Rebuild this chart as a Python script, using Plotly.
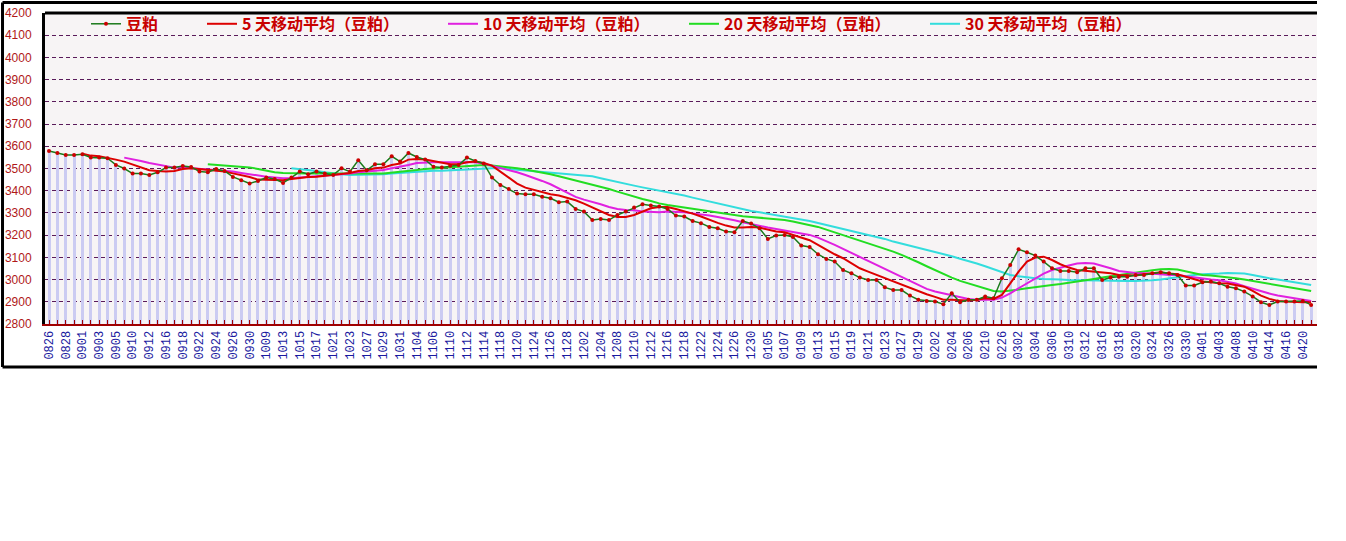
import plotly.graph_objects as go

dates = [
    "0826","0827","0828","0829","0901","0902","0903","0904","0905","0908",
    "0910","0911","0912","0915","0916","0917","0918","0919","0922","0923",
    "0924","0925","0926","0929","0930","1008","1009","1010","1013","1014",
    "1015","1016","1017","1020","1021","1022","1023","1024","1027","1028",
    "1029","1030","1031","1103","1104","1105","1106","1107","1110","1111",
    "1112","1113","1114","1117","1118","1119","1120","1121","1124","1125",
    "1126","1127","1128","1201","1202","1203","1204","1205","1208","1209",
    "1210","1211","1212","1215","1216","1217","1218","1219","1222","1223",
    "1224","1225","1226","1229","1230","0104","0105","0106","0107","0108",
    "0109","0112","0113","0114","0115","0116","0119","0120","0121","0122",
    "0123","0126","0127","0128","0129","0130","0202","0203","0204","0205",
    "0206","0209","0210","0225","0226","0227","0302","0303","0304","0305",
    "0306","0309","0310","0311","0312","0313","0316","0317","0318","0319",
    "0320","0323","0324","0325","0326","0327","0330","0331","0401","0402",
    "0403","0407","0408","0409","0410","0413","0414","0415","0416","0417",
    "0420","0421",
]

price = [
    3579,3570,3561,3561,3564,3549,3549,3546,3516,3500,
    3477,3477,3471,3483,3504,3504,3511,3507,3486,3483,
    3498,3489,3462,3447,3433,3444,3459,3453,3435,3459,
    3486,3474,3486,3477,3471,3501,3486,3537,3492,3519,
    3519,3555,3531,3570,3552,3540,3508,3505,3512,3516,
    3549,3534,3523,3459,3426,3408,3387,3384,3384,3373,
    3366,3348,3351,3318,3306,3268,3273,3268,3291,3306,
    3324,3339,3333,3329,3318,3288,3284,3264,3254,3237,
    3231,3216,3213,3264,3252,3231,3183,3198,3201,3192,
    3153,3147,3114,3093,3081,3043,3028,3009,2998,2998,
    2965,2953,2953,2928,2909,2904,2901,2889,2938,2898,
    2909,2909,2924,2916,3006,3066,3136,3123,3108,3081,
    3051,3039,3039,3033,3051,3051,2998,3009,3013,3013,
    3021,3021,3028,3033,3028,3021,2973,2973,2988,2991,
    2983,2968,2961,2946,2924,2898,2886,2901,2901,2901,
    2904,2886,
]

ma5 = [None] * 4 + [
    3566,3558,3555,3549,3540,3531,3519,3507,3492,3489,
    3486,3489,3498,3501,3498,3495,3492,3486,3478,3471,
    3462,3450,3450,3450,3447,3453,3459,3462,3463,3468,
    3471,3477,3480,3489,3492,3501,3504,3516,3522,3540,
    3543,3540,3534,3525,3519,
    3519,3528,3531,3525,3513,3486,3456,3432,3414,3403,
    3393,3384,3378,3369,3357,3342,3324,3306,3291,3282,
    3282,3291,3306,3321,3327,3327,3318,3309,3297,3284,
    3268,3255,3243,3234,3234,3237,3234,3225,3216,3213,
    3201,3189,3177,3156,3134,3114,3096,3075,3051,3036,
    3021,3006,
    2991,2976,2961,2946,2934,2922,2909,2909,2906,2906,
    2909,2916,2913,2931,2983,3036,3081,3099,3103,3088,
    3069,3054,3043,3039,3036,3033,3028,3021,3018,3018,
    3024,3028,3033,3027,3024,3013,3003,2991,2988,2983,
    2982,2976,2968,2949,2928,2913,2904,2901,2898,2898,
    2898,
]

ma10 = [None] * 9 + [
    3549,3543,3534,3525,3519,3510,3504,3504,3501,3501,
    3498,3493,3489,3486,3480,3474,3468,3463,3460,3456,
    3456,3459,3462,3463,3465,3468,3471,3477,3483,3486,
    3489,3493,3501,3507,3516,3525,3528,3528,3528,3528,
    3528,3528,3528,3522,3513,3504,3493,3483,3471,3459,
    3444,3429,3411,3393,3372,3360,3351,3339,3327,3318,
    3313,3312,3306,3303,3303,3306,3306,3303,3298,3294,
    3288,3282,3276,3267,3258,3249,3243,3234,3228,3222,
    3213,3207,3201,3189,3174,3156,3138,3120,3102,3084,
    3066,3048,
    3033,3012,2994,2976,2958,2946,2937,2928,2920,2913,
    2909,2909,2909,2919,2938,2961,2983,3006,3027,3043,
    3054,3063,3072,3075,3072,3063,3051,3039,3033,3030,
    3028,3027,3024,3021,3021,3015,3009,3003,3000,2997,
    2991,2982,2970,2958,2946,2937,2928,2922,2916,2909,
    2904,
]

ma20 = [None] * 19 + [
    3519,3516,3513,3511,3508,3505,3498,3489,3483,3480,
    3478,3478,3477,3477,3477,3477,3474,3474,3474,3474,
    3477,3478,3481,3486,3489,3493,3498,3501,3504,3507,
    3510,3513,3516,3516,3513,3510,3507,3501,3495,3489,
    3483,3474,3465,3456,3447,3438,3429,3418,3408,3396,
    3384,3372,3363,3354,3343,3336,3330,3324,3321,3315,
    3309,3303,3297,3291,3285,3282,3279,3276,3273,3268,
    3261,3253,3246,3237,3225,3213,3201,3189,3177,3165,
    3153,3138,
    3126,3111,3096,3078,3060,3042,3024,3009,2994,2982,
    2970,2958,2949,2946,2949,2955,2961,2967,2971,2976,
    2980,2985,2991,2997,3003,3009,3015,3021,3024,3030,
    3036,3042,3046,3048,3045,3036,3027,3021,3018,3015,
    3012,3006,3000,2994,2985,2979,2973,2967,2961,2955,
    2949,
]

ma30 = [None] * 29 + [
    3501,3498,3495,3489,3483,3477,3474,3471,3471,3471,
    3471,3474,3477,3480,3483,3486,3489,3490,3490,3492,
    3493,3495,3498,3501,3501,3501,3498,3495,3492,3489,
    3486,3483,3480,3477,3474,3471,3465,3456,3447,3441,
    3432,3423,3415,3408,3399,3393,3387,3378,3369,3360,
    3351,3342,3333,3324,3315,3309,3303,3297,3291,3285,
    3279,3273,3264,3255,3246,3238,3231,3222,3213,3204,
    3193,3183,
    3171,3162,3153,3144,3135,3126,3115,3105,3094,3084,
    3072,3060,3048,3033,3021,3015,3009,3006,3003,3000,
    3000,2998,2997,2997,2997,2994,2994,2994,2994,2994,
    2994,2997,3000,3006,3012,3018,3021,3024,3024,3027,
    3030,3030,3027,3021,3012,3006,3000,2994,2988,2982,
    2976,
]

names = ["豆粕", "5 天移动平均（豆粕）", "10 天移动平均（豆粕）",
         "20 天移动平均（豆粕）", "30 天移动平均（豆粕）"]

xs = list(range(len(dates)))
tick_text = [d if i % 2 == 0 else "" for i, d in enumerate(dates)]

fig = go.Figure()

fig.add_trace(go.Bar(x=xs, y=price, width=0.36, marker=dict(color="#cbcbf2", line=dict(width=0)),
                     showlegend=False, hoverinfo="skip"))

ma_specs = [(ma30, names[4], "#33dddd", 4), (ma20, names[3], "#22dd22", 3),
            (ma10, names[2], "#e021e0", 2), (ma5, names[1], "#dd0000", 1)]
for vals, nm, col, rank in ma_specs:
    fig.add_trace(go.Scatter(x=xs, y=vals, mode="lines", name=nm,
                             line=dict(color=col, width=2), legend="legend2",
                             legendrank=rank))

fig.add_trace(go.Scatter(x=xs, y=price, mode="lines+markers", name=names[0],
                         line=dict(color="#1b7a1b", width=1.5),
                         marker=dict(color="#cc0000", size=4), legend="legend"))

legend_font = dict(family="Noto Sans CJK SC", size=16, color="#c80000", weight="bold")

fig.update_layout(
    width=1346, height=541,
    margin=dict(l=45, r=29, t=13, b=217, autoexpand=False),
    paper_bgcolor="white",
    plot_bgcolor="#f7f4f5",
    bargap=0,
    legend=dict(orientation="h", x=(86 - 45) / 1272, y=0.965, xanchor="left", yanchor="middle",
                bgcolor="rgba(0,0,0,0)", font=legend_font, itemwidth=30),
    legend2=dict(orientation="h", x=(202 - 45) / 1272, y=0.965, xanchor="left", yanchor="middle",
                 bgcolor="rgba(0,0,0,0)", font=legend_font, itemwidth=30,
                 entrywidth=196, entrywidthmode="pixels"),
    xaxis=dict(range=[-0.48, 151.7], tickmode="array", tickvals=xs, ticktext=tick_text,
               tickangle=-90, tickfont=dict(family="Liberation Mono", size=12, color="#1a1aa0"),
               ticks="inside", ticklen=4, tickcolor="#a00000", tickwidth=1,
               showline=True, linecolor="#a00000", linewidth=2, automargin=False,
               showgrid=False, zeroline=False),
    yaxis=dict(range=[2800, 4200], tick0=2800, dtick=100, automargin=False,
               tickfont=dict(family="Liberation Sans", size=12, color="#b01818"),
               showgrid=True, gridcolor="#5a1a5a", griddash="4px,3px", gridwidth=1,
               showline=True, linecolor="black", linewidth=3, zeroline=False,
               ticks="", ticklabelstandoff=8),
    shapes=[
        dict(type="line", xref="paper", yref="paper", x0=0, x1=1, y0=1, y1=1,
             line=dict(color="black", width=3)),
        dict(type="line", xref="paper", yref="paper", x0=-0.0334, x1=1, y0=1.0338, y1=1.0338,
             line=dict(color="black", width=3)),
        dict(type="line", xref="paper", yref="paper", x0=-0.0334, x1=-0.0334, y0=1.0338, y1=-0.1383,
             line=dict(color="black", width=3)),
        dict(type="line", xref="paper", yref="paper", x0=-0.0334, x1=1, y0=-0.1383, y1=-0.1383,
             line=dict(color="black", width=3)),
    ],
)

fig.write_html("out.html", config={"displayModeBar": False},
               post_script="document.body.style.margin='0px';")
